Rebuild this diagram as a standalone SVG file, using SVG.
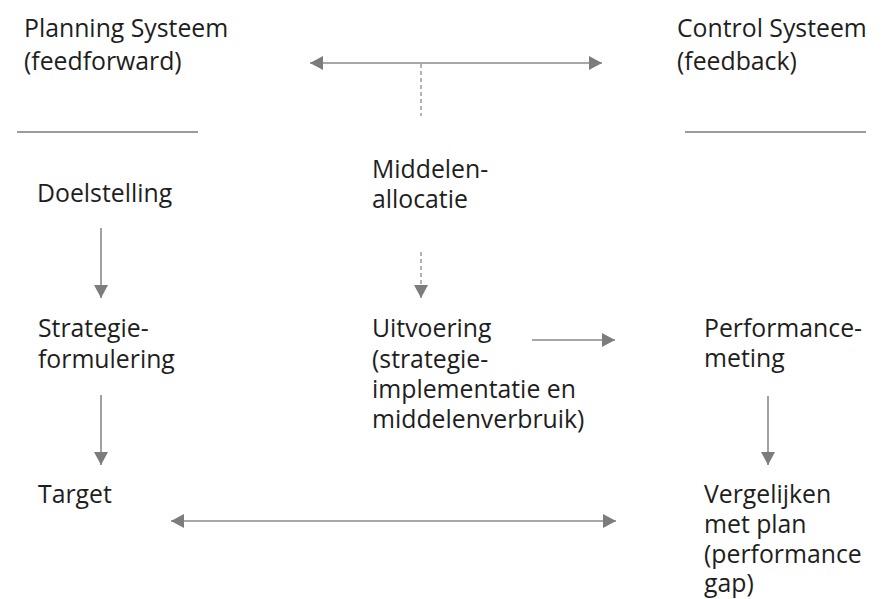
<svg xmlns="http://www.w3.org/2000/svg" width="884" height="599" viewBox="0 0 884 599">
  <defs>
    <style>
      text { font-family: "Open Sans", "Liberation Sans", Arial, sans-serif; font-size: 24.8px; fill: #1e1e1e; }
      .rule { stroke: #7a7a7a; stroke-width: 1.4; fill: none; }
      .link { stroke: #8a8a8a; stroke-width: 1.6; fill: none; }
      .dash { stroke: #8a8a8a; stroke-width: 1.3; stroke-dasharray: 4 3; fill: none; }
    </style>
    <marker id="head" viewBox="0 0 14 14" refX="13" refY="7" markerWidth="14" markerHeight="14" markerUnits="userSpaceOnUse" orient="auto-start-reverse">
      <path d="M0,0 L13,7 L0,14 Z" fill="#7c7c7c"/>
    </marker>
  </defs>

  <rect width="884" height="599" fill="#ffffff"/>

  <g id="planning-header">
    <text x="24" y="37">Planning Systeem<tspan x="24" dy="33">(feedforward)</tspan></text>
    <line class="rule" x1="17" y1="132" x2="198" y2="132"/>
  </g>

  <g id="control-header">
    <text x="677" y="37">Control Systeem<tspan x="677" dy="33">(feedback)</tspan></text>
    <line class="rule" x1="685" y1="132" x2="866" y2="132"/>
  </g>

  <g id="doelstelling"><text x="37" y="202">Doelstelling</text></g>

  <g id="strategieformulering">
    <text x="38" y="337">Strategie-<tspan x="38" dy="31">formulering</tspan></text>
  </g>

  <g id="target"><text x="38" y="503">Target</text></g>

  <g id="middelenallocatie">
    <text x="372" y="178">Middelen-<tspan x="372" dy="30">allocatie</tspan></text>
  </g>

  <g id="uitvoering">
    <text x="372" y="337">Uitvoering<tspan x="372" dy="31">(strategie-</tspan><tspan x="372" dy="30">implementatie en</tspan><tspan x="372" dy="30">middelenverbruik)</tspan></text>
  </g>

  <g id="performancemeting">
    <text x="704" y="337">Performance-<tspan x="704" dy="30">meting</tspan></text>
  </g>

  <g id="vergelijken">
    <text x="704" y="503">Vergelijken<tspan x="704" dy="30">met plan</tspan><tspan x="704" dy="30">(performance</tspan><tspan x="704" dy="29">gap)</tspan></text>
  </g>

  <g id="connectors">
    <!-- planning <-> control -->
    <line class="link" x1="310" y1="63" x2="602" y2="63" marker-start="url(#head)" marker-end="url(#head)"/>
    <line class="dash" x1="421" y1="64" x2="421" y2="116"/>
    <!-- allocatie -> uitvoering -->
    <line class="dash" x1="421" y1="252" x2="421" y2="298" marker-end="url(#head)"/>
    <!-- planning column -->
    <line class="link" x1="101" y1="228" x2="101" y2="298" marker-end="url(#head)"/>
    <line class="link" x1="101" y1="395" x2="101" y2="465" marker-end="url(#head)"/>
    <!-- uitvoering -> performance -->
    <line class="link" x1="532" y1="340" x2="615" y2="340" marker-end="url(#head)"/>
    <!-- performance -> vergelijken -->
    <line class="link" x1="768" y1="396" x2="768" y2="465" marker-end="url(#head)"/>
    <!-- target <-> vergelijken -->
    <line class="link" x1="171" y1="521" x2="616" y2="521" marker-start="url(#head)" marker-end="url(#head)"/>
  </g>
</svg>
